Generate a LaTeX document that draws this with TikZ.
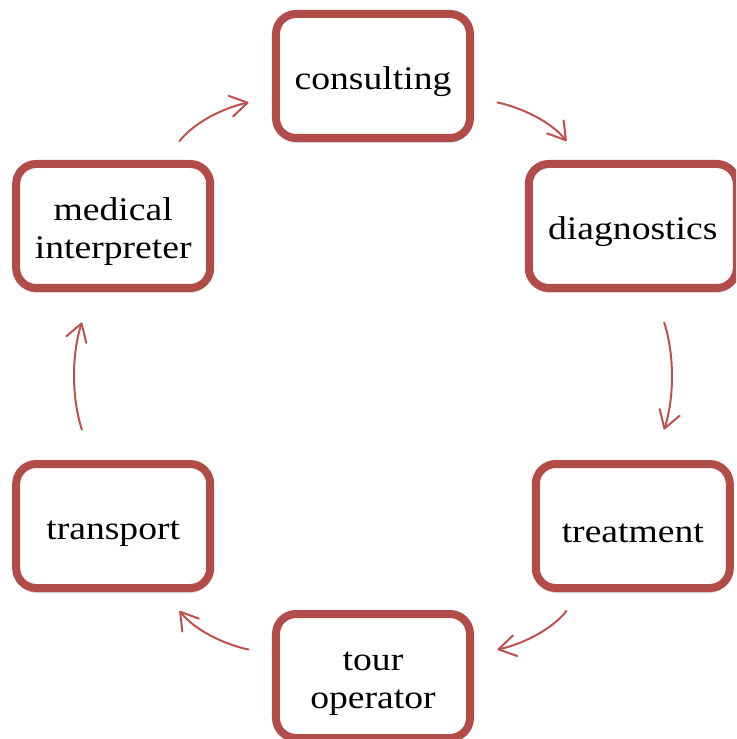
\documentclass[tikz,border=0pt]{standalone}
\usepackage{fontspec}
\setmainfont{Liberation Serif}[FakeStretch=1.14]
\usetikzlibrary{arrows.meta,shadows}
\definecolor{cyclered}{HTML}{B24C49}
\definecolor{arrowred}{HTML}{C0504D}
\tikzset
{
    stage/.style   = {rectangle, rounded corners=10pt, draw=cyclered, line width=4pt, fill=white, align=center, minimum width=97pt, minimum height=62pt, font=\fontsize{16.5}{19}\selectfont, execute at begin node=\rule{0pt}{17pt}, drop shadow={shadow xshift=0pt, shadow yshift=-2.5pt, opacity=0.3}},
    twolines/.style = {execute at begin node=\rule{0pt}{36.3pt}},
    flow/.style    = {draw=arrowred, line width=1pt, line cap=round, shorten <=12pt, shorten >=12pt}
}

\begin{document}
\begin{tikzpicture}[->, >={Straight Barb[length=8.5pt, width=10.5pt, round]}, x=0.5pt, y=0.5pt]
\clip (-373,-363) rectangle (363,376);
\node [stage] at (90:300) (consulting) {consulting};
\node [stage, minimum width=104pt] at (30:300) (diagnostics) {diagnostics};
\node [stage] at (-30:300) (treatment) {treatment};
\node [stage, twolines] at (-90:300) (tour) {tour\\operator};
\node [stage] at (210:300) (transport) {transport};
\node [stage, twolines] at (150:300) (medical) {medical\\interpreter};
\draw [flow] (consulting) edge[out=-12, in=128] (diagnostics);
\draw [flow] (diagnostics) edge[out=-72, in=72, shorten <=16pt, shorten >=16pt] (treatment);
\draw [flow] (treatment) edge[out=-128, in=12] (tour);
\draw [flow] (tour) edge[out=168, in=-52] (transport);
\draw [flow] (transport) edge[out=108, in=-108, shorten <=16pt, shorten >=16pt] (medical);
\draw [flow] (medical) edge[out=52, in=192] (consulting);
\end{tikzpicture}
\end{document}
